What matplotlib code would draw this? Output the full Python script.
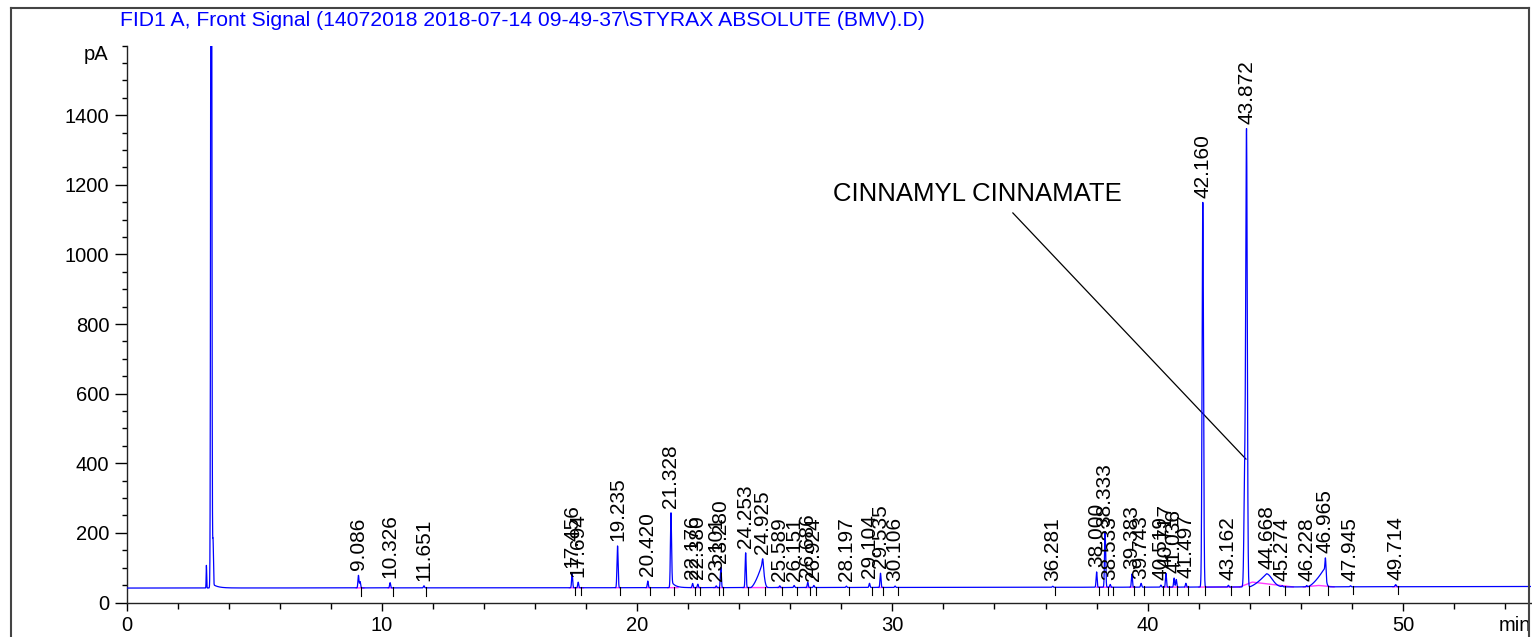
import numpy as np
import matplotlib
matplotlib.use("Agg")
from matplotlib import pyplot as plt
from matplotlib.lines import Line2D

plt.rcParams['font.family'] = ['Liberation Sans', 'DejaVu Sans']

# baseline drift (min, pA)
base_t = [0, 20, 40, 55]
base_y = [41.5, 42.5, 44.0, 46.0]

# labelled peaks: retention time, height above baseline, width (sigma, min)
peak_rt = [9.086, 10.326, 11.651, 17.456, 17.694, 19.235, 20.420, 21.328,
           22.176, 22.380, 23.101, 23.280, 24.253, 24.925, 25.589, 26.151,
           26.686, 26.924, 28.197, 29.104, 29.535, 30.106, 36.281, 38.000,
           38.333, 38.533, 39.383, 39.743, 40.519, 40.717, 41.036, 41.497,
           42.160, 43.162, 43.872, 44.668, 45.274, 46.228, 46.965, 47.945,
           49.714]
peak_h = [36, 15, 6, 42, 16, 120, 19, 215,
          12, 10, 5, 58, 100, 18, 5, 6,
          15, 6, 4, 12, 41, 4, 3, 44,
          160, 8, 38, 11, 6, 40, 26, 11,
          1105, 5, 1300, 0, 3, 4, 50, 3,
          6]
peak_w = [0.02, 0.02, 0.02, 0.02, 0.02, 0.022, 0.02, 0.022,
          0.02, 0.02, 0.02, 0.02, 0.02, 0.02, 0.02, 0.02,
          0.02, 0.02, 0.02, 0.02, 0.02, 0.02, 0.02, 0.02,
          0.022, 0.02, 0.02, 0.02, 0.02, 0.02, 0.02, 0.02,
          0.028, 0.02, 0.03, 0.02, 0.02, 0.02, 0.02, 0.02,
          0.025]
peak_labels = ["9.086", "10.326", "11.651", "17.456", "17.694", "19.235", "20.420", "21.328",
               "22.176", "22.380", "23.101", "23.280", "24.253", "24.925", "25.589", "26.151",
               "26.686", "26.924", "28.197", "29.104", "29.535", "30.106", "36.281", "38.000",
               "38.333", "38.533", "39.383", "39.743", "40.519", "40.717", "41.036", "41.497",
               "42.160", "43.162", "43.872", "44.668", "45.274", "46.228", "46.965", "47.945",
               "49.714"]

# unlabelled peaks (solvent etc.)
extra_rt = [3.13, 3.32, 3.39, 41.12, 9.15, 43.80]
extra_h = [65, 3000, 125, 22, 18, 300]
extra_w = [0.01, 0.02, 0.015, 0.02, 0.02, 0.03]

# tailing: start, height, decay (min)
tail_rt = [3.36, 21.34]
tail_h = [12, 18]
tail_tau = [0.2, 0.15]

# broad humps: start, apex, height, fall width
hump_start = [24.45, 43.95, 46.25]
hump_apex = [24.90, 44.65, 46.90]
hump_h = [68, 38, 50]
hump_fall = [0.07, 0.22, 0.07]

# integration baselines (pink)
pink_x = [[9.0, 9.3], [10.25, 10.4], [17.35, 17.9], [19.15, 19.35], [20.35, 20.5],
          [21.2, 21.6], [22.1, 22.5], [23.0, 23.4], [24.15, 24.35], [24.4, 25.1],
          [25.5, 25.7], [26.6, 26.8], [29.45, 29.65], [38.0, 38.6], [39.3, 39.5],
          [40.6, 41.2], [41.45, 41.6], [42.0, 43.6], [43.6, 44.1, 45.7], [46.1, 46.7, 47.3],
          [49.6, 49.85]]
pink_lift = [[0, 0], [0, 0], [0, 0], [0, 0], [0, 0],
             [0, 0], [0, 0], [0, 0], [0, 0], [0, 0],
             [0, 0], [0, 0], [0, 0], [0, 0], [0, 0],
             [0, 0], [0, 0], [0, 0], [0, 14, 0], [0, 4, 0],
             [0, 0]]

t = np.arange(0, 55.0005, 0.002)
base = np.interp(t, base_t, base_y)
sig = base.copy()
for rt, h, w in zip(peak_rt + extra_rt, peak_h + extra_h, peak_w + extra_w):
    sig += h * np.exp(-0.5 * ((t - rt) / w) ** 2)
for rt, h, tau in zip(tail_rt, tail_h, tail_tau):
    m = t > rt
    sig[m] += h * np.exp(-(t[m] - rt) / tau)
for s, a, h, f in zip(hump_start, hump_apex, hump_h, hump_fall):
    up = (t > s) & (t <= a)
    sig[up] += h * ((t[up] - s) / (a - s)) ** 1.5
    dn = t > a
    sig[dn] += h * np.exp(-0.5 * ((t[dn] - a) / f) ** 2)

W, H = 1532, 637
fig = plt.figure(figsize=(W / 100, H / 100), dpi=100)
ax = fig.add_axes([126.5 / W, (H - 602.5) / H, (1530.6 - 126.5) / W, 557 / H])

ax.plot(t, sig, color='#0000ff', lw=0.9, zorder=3)
for xs, lift in zip(pink_x, pink_lift):
    ys = np.interp(xs, base_t, base_y) + np.array(lift)
    ax.plot(xs, ys, color='#ff3cff', lw=1.0, zorder=2)

ax.set_xlim(0, 55)
ax.set_ylim(0, 1600)

# peak labels and retention marks
for rt, lab in zip(peak_rt, peak_labels):
    win = (t > rt - 0.03) & (t < rt + 0.03)
    top = min(sig[win].max(), 1600)
    ax.annotate(lab, xy=(rt, top), xytext=(0, 3.5), textcoords='offset points',
                rotation=90, ha='center', va='bottom', fontsize=15, color='black',
                zorder=4)
    b = np.interp(rt + 0.1, base_t, base_y)
    ax.plot([rt + 0.1, rt + 0.1], [b + 2, b - 22], color='black', lw=0.8, zorder=4)

# compound annotation
ax.text(27.67, 1154, "CINNAMYL CINNAMATE", fontsize=18.5, ha='left', va='baseline')
ax.plot([34.72, 43.85], [1119, 412], color='black', lw=0.9)

for s in ['top', 'right']:
    ax.spines[s].set_visible(False)
for s in ['left', 'bottom']:
    ax.spines[s].set_linewidth(1.0)
    ax.spines[s].set_color('#222222')

ax.set_xticks(range(0, 51, 10))
ax.set_xticks(range(0, 56, 2), minor=True)
ax.set_yticks(range(0, 1401, 200))
ax.set_yticks(range(0, 1601, 50), minor=True)
ax.tick_params(axis='both', which='major', labelsize=14.5, direction='out', width=1.0)
ax.tick_params(axis='y', which='major', length=8.5, pad=4)
ax.tick_params(axis='y', which='minor', length=3.5, width=1.0)
ax.tick_params(axis='x', which='major', length=6, pad=3.5)
ax.tick_params(axis='x', which='minor', length=4, width=1.0)

ax.annotate('pA', xy=(0, 1575), xycoords=('axes fraction', 'data'),
            xytext=(-13, 0), textcoords='offset points', ha='right', va='center',
            fontsize=14.5)
ax.annotate('min', xy=(54.4, 0), xycoords='data', xytext=(0, -9.5),
            textcoords='offset points', ha='center', va='top', fontsize=14.5)

# instrument frame and title
fig.add_artist(Line2D([11 / W, 11 / W], [0, 1 - 8 / H], color='#444444', lw=1.5))
fig.add_artist(Line2D([11 / W, 1529 / W], [1 - 8 / H, 1 - 8 / H], color='#444444', lw=1.5))
fig.add_artist(Line2D([1529 / W, 1529 / W], [0, 1 - 8 / H], color='#444444', lw=1.5))
fig.text(120 / W, 1 - 21 / H,
         "FID1 A, Front Signal (14072018 2018-07-14 09-49-37\\STYRAX ABSOLUTE (BMV).D)",
         color='#0000ff', fontsize=15.2, ha='left', va='center')

fig.savefig('out.png', dpi=100)
